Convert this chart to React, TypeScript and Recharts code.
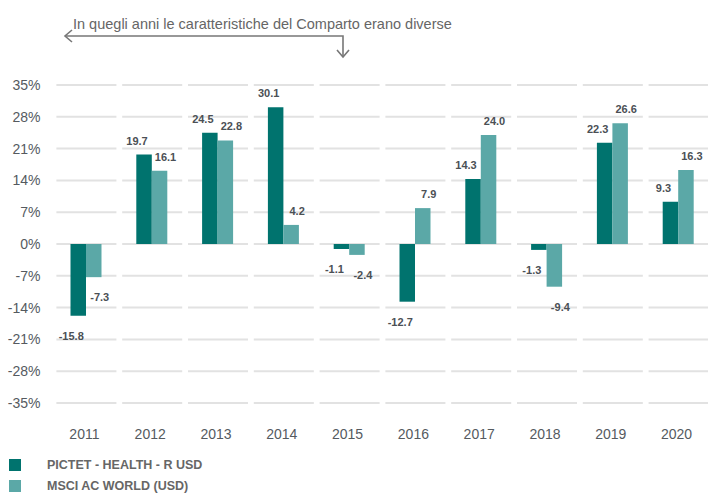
import { Bar, BarChart, CartesianGrid, LabelList, XAxis, YAxis } from "recharts"

const YEARS = ["2011", "2012", "2013", "2014", "2015", "2016", "2017", "2018", "2019", "2020"]
const PICTET = [-15.8, 19.7, 24.5, 30.1, -1.1, -12.7, 14.3, -1.3, 22.3, 9.3]
const MSCI = [-7.3, 16.1, 22.8, 4.2, -2.4, 7.9, 24.0, -9.4, 26.6, 16.3]
const Y_TICKS = [-35, -28, -21, -14, -7, 0, 7, 14, 21, 28, 35]
const SERIES_NAMES = ["PICTET - HEALTH - R USD", "MSCI AC WORLD (USD)"]
const NOTE = "In quegli anni le caratteristiche del Comparto erano diverse"

const DARK = "#00736e"
const LIGHT = "#5ba8a7"
const FONT = "'Liberation Sans', Arial, sans-serif"

const DATA = YEARS.map((year, i) => ({ year, pictet: PICTET[i], msci: MSCI[i] }))

// value label: above positive bars, below negative ones, nudged sideways
const makeLabel = (dx: number) => (props: any) => {
    const x = Number(props.x)
    const y = Number(props.y)
    const w = Number(props.width)
    const h = Number(props.height)
    const v = Number(props.value)
    const top = Math.min(y, y + h)
    const bottom = Math.max(y, y + h)
    const cy = v >= 0 ? top - 14 : bottom + 20
    return (
        <text
            x={x + w / 2 + dx}
            y={cy}
            textAnchor="middle"
            dominantBaseline="central"
            fontFamily={FONT}
            fontSize={11}
            fontWeight="bold"
            fill="#4b5055"
        >
            {v.toFixed(1)}
        </text>
    )
}

export default function App() {
    return (
        <div style={{ position: "fixed", left: 0, top: 0, width: 708, height: 495, overflow: "hidden", background: "#fff", fontFamily: FONT }}>
            <BarChart
                width={720}
                height={495}
                data={DATA}
                margin={{ top: 85, right: 8.5, left: 0, bottom: 62 }}
                barGap={0}
                barSize={15.5}
            >
                <CartesianGrid
                    vertical={false}
                    stroke="#e2e2e2"
                    strokeWidth={2}
                    strokeDasharray="0 2.9 60 2.9"
                />
                <XAxis
                    dataKey="year"
                    axisLine={false}
                    tickLine={false}
                    tickMargin={20}
                    height={30}
                    tick={{ fontSize: 14, fill: "#555a5f", fontFamily: FONT, dx: -2 }}
                />
                <YAxis
                    domain={[-35, 35]}
                    ticks={Y_TICKS}
                    width={53.5}
                    axisLine={false}
                    tickLine={false}
                    tickMargin={7}
                    interval={0}
                    tickFormatter={(v) => `${v}%`}
                    tick={{ fontSize: 14, fill: "#555a5f", fontFamily: FONT }}
                />
                <Bar dataKey="pictet" fill={DARK} isAnimationActive={false}>
                    <LabelList dataKey="pictet" content={makeLabel(-7)} />
                </Bar>
                <Bar dataKey="msci" fill={LIGHT} isAnimationActive={false}>
                    <LabelList dataKey="msci" content={makeLabel(6)} />
                </Bar>
            </BarChart>

            {/* note with bent arrow over the early years */}
            <svg width={708} height={70} style={{ position: "absolute", left: 0, top: 0 }}>
                <text x={73} y={29} fontSize={14.5} fill="#666" fontFamily={FONT}>{NOTE}</text>
                <g stroke="#777" strokeWidth={1.6} fill="none">
                    <polyline points="65,36 343,36 343,57" />
                    <polyline points="72,30 65,36 72,42" />
                    <polyline points="337,50 343,57 349,50" />
                </g>
            </svg>

            {/* legend */}
            {SERIES_NAMES.map((name, i) => (
                <div key={name} style={{ position: "absolute", left: 9, top: 459 + i * 21, height: 12, display: "flex", alignItems: "center" }}>
                    <div style={{ width: 12, height: 12, background: i === 0 ? DARK : LIGHT }} />
                    <span style={{ marginLeft: 26, fontSize: 12.5, lineHeight: "12px", fontWeight: "bold", color: "#666", whiteSpace: "nowrap" }}>{name}</span>
                </div>
            ))}
        </div>
    )
}
